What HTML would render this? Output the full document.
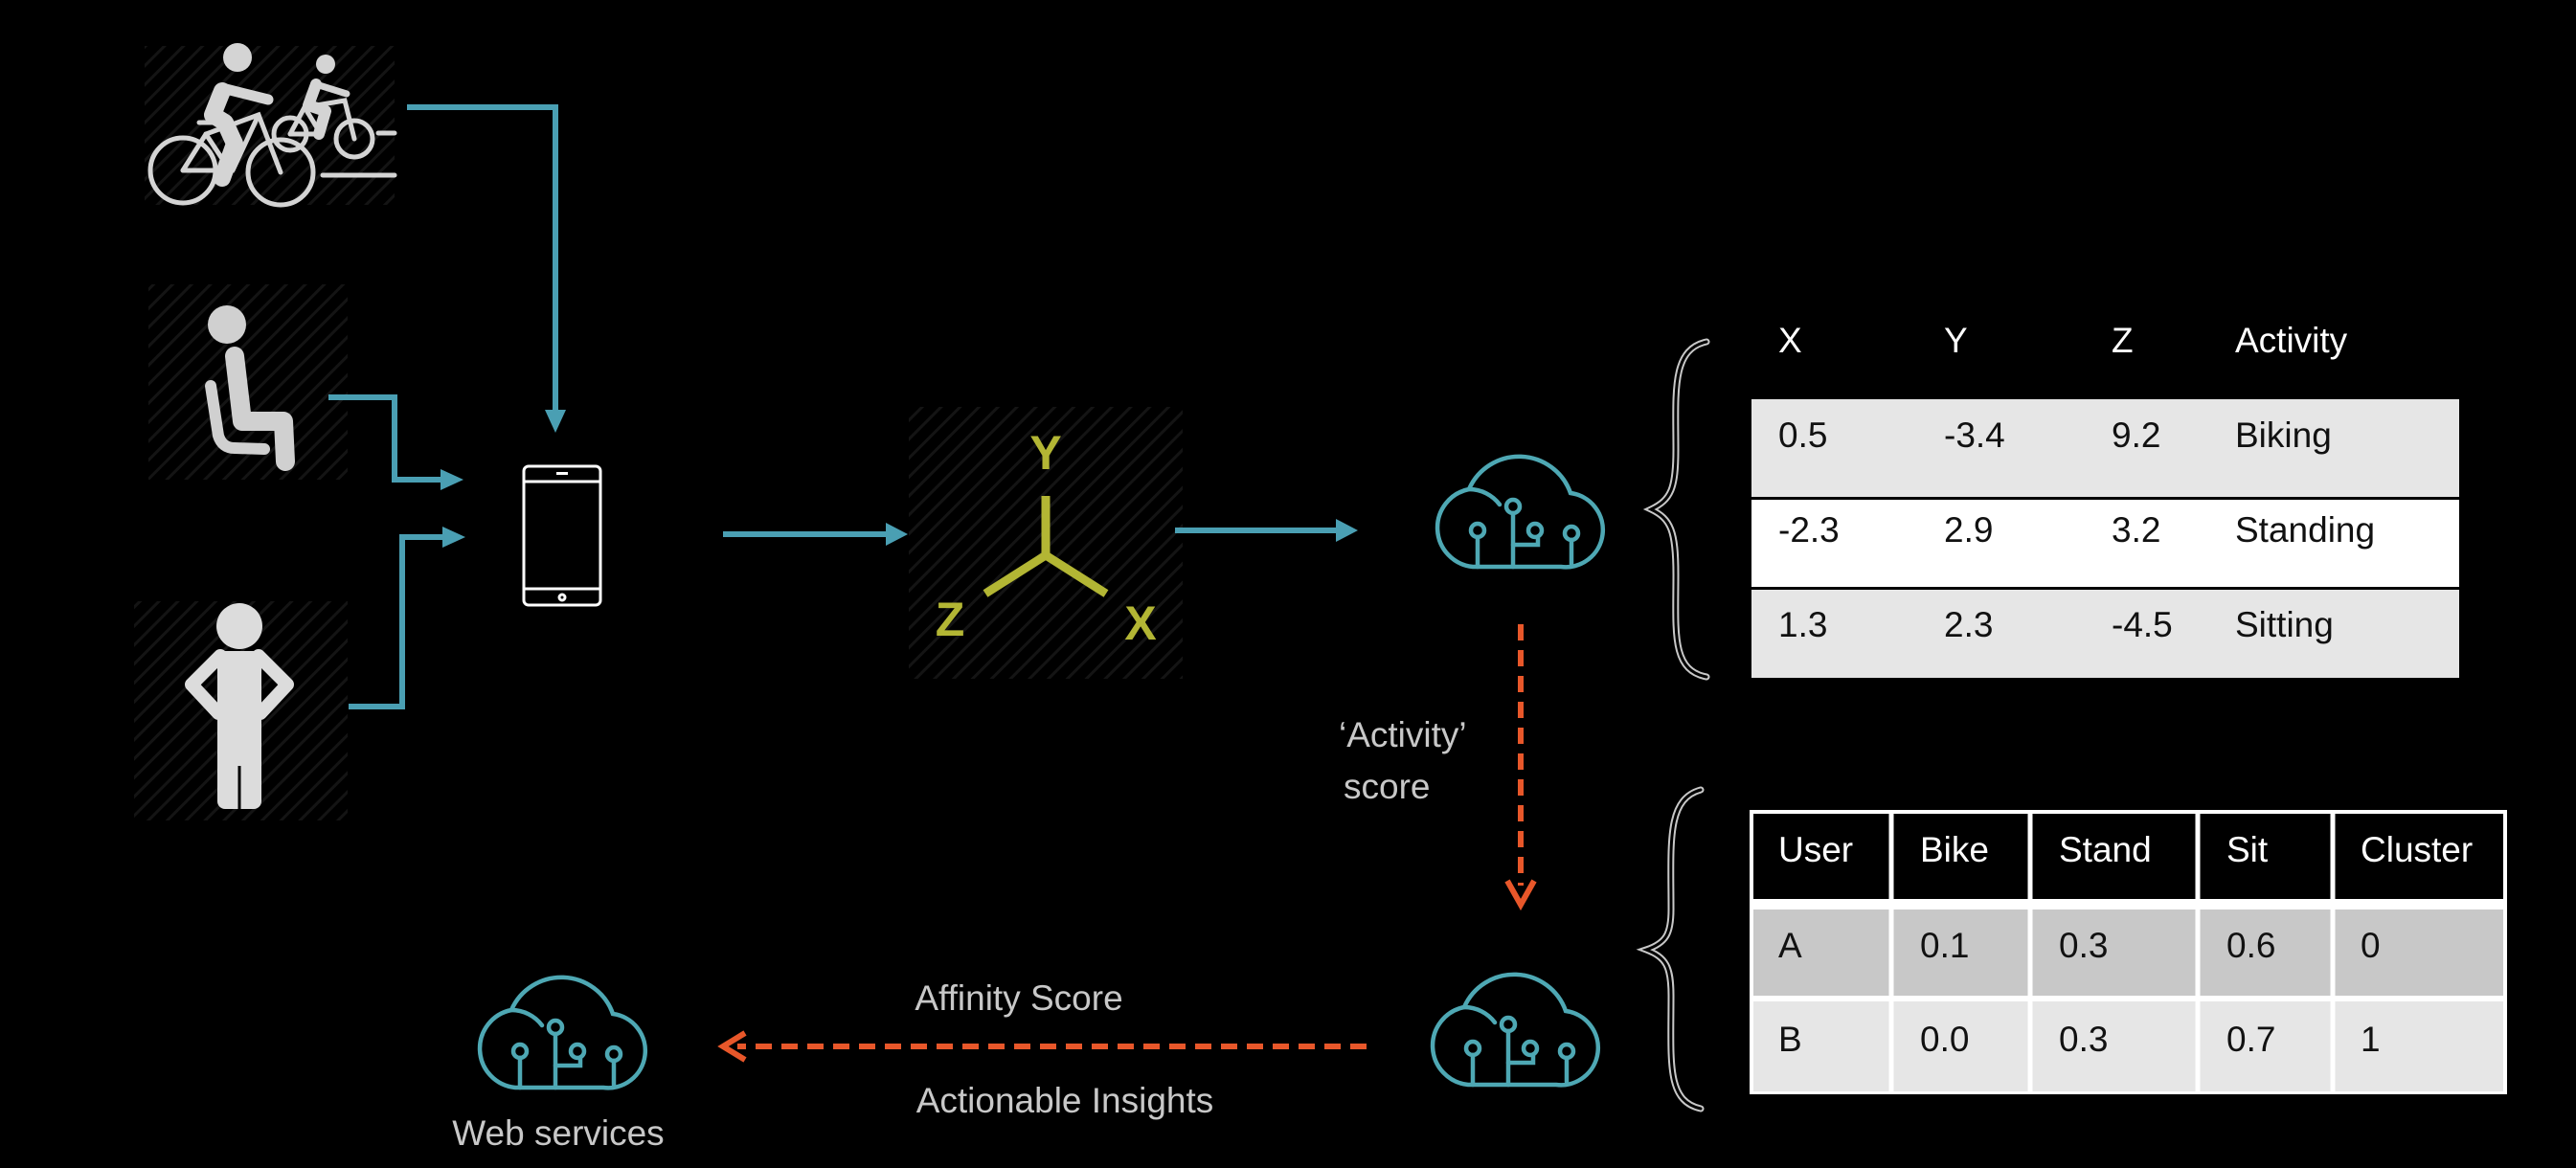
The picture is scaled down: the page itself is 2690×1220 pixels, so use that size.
<!DOCTYPE html>
<html><head><meta charset="utf-8"><style>
html,body{margin:0;padding:0;background:#000;}
body{width:2690px;height:1220px;overflow:hidden;position:relative;font-family:"Liberation Sans",sans-serif;}
svg{position:absolute;left:0;top:0;}
.t{font-family:"Liberation Sans",sans-serif;font-size:37px;fill:#111;}
.l{font-family:"Liberation Sans",sans-serif;font-size:37px;fill:#c8c8c8;}
</style></head><body>
<svg width="2690" height="1220" viewBox="0 0 2690 1220" xmlns="http://www.w3.org/2000/svg">
<defs>
<pattern id="h" width="14" height="14" patternUnits="userSpaceOnUse" patternTransform="rotate(45)">
<rect width="14" height="14" fill="#000"/><rect width="3" height="14" fill="#141414"/></pattern>
<g id="cloud" fill="none" stroke="#4ea8b4" stroke-width="4.5" stroke-linecap="round">
<path d="M48 115 H140 A38 38 0 0 0 150 38 A57 57 0 0 0 44 34 A41 41 0 0 0 48 115 Z"/>
<path d="M44 34 A40 40 0 0 1 76 50"/>
<circle cx="53" cy="77" r="7"/><line x1="53" y1="84" x2="53" y2="115"/>
<circle cx="90" cy="52" r="7"/><line x1="90" y1="59" x2="90" y2="115"/>
<polyline points="90,92 116,92 116,84"/><circle cx="113" cy="77" r="7"/>
<circle cx="151" cy="80" r="7"/><line x1="151" y1="87" x2="151" y2="112"/>
</g>
</defs>

<rect x="151" y="48" width="261" height="166" fill="url(#h)"/>
<rect x="155" y="297" width="208" height="204" fill="url(#h)"/>
<rect x="140" y="628" width="223" height="229" fill="url(#h)"/>
<rect x="949" y="425" width="286" height="284" fill="url(#h)"/>

<g fill="none" stroke="#d4d4d4" stroke-width="5" stroke-linecap="round">
<circle cx="191" cy="178" r="34"/><circle cx="293" cy="180" r="34"/>
<polyline points="191,178 215,140 270,120 293,180"/><polyline points="215,140 240,178 191,178"/>
<line x1="270" y1="120" x2="243" y2="178"/><line x1="208" y1="128" x2="222" y2="128"/>
<circle cx="303" cy="140" r="17"/><circle cx="370" cy="145" r="19"/>
<polyline points="303,140 318,112 360,105 370,145"/><line x1="318" y1="112" x2="335" y2="140"/><line x1="303" y1="140" x2="335" y2="140"/>
<line x1="337" y1="183" x2="412" y2="183"/><line x1="395" y1="139" x2="412" y2="139"/>
</g>
<g fill="#d4d4d4" stroke="#d4d4d4" stroke-linecap="round" stroke-linejoin="round">
<circle cx="248" cy="60" r="15" stroke="none"/>
<polyline points="232,95 222,120 235,128 245,150 232,186" fill="none" stroke-width="18"/>
<line x1="232" y1="92" x2="280" y2="104" stroke-width="11"/>
<circle cx="340" cy="67" r="10" stroke="none"/>
<polyline points="330,88 322,110 340,116 333,140" fill="none" stroke-width="12"/>
<line x1="330" y1="88" x2="362" y2="98" stroke-width="7"/>
</g>

<g fill="none" stroke="#d0d0d0" stroke-linecap="round" stroke-linejoin="round">
<polyline points="245,372 253,440 296,440 298,482" stroke-width="20"/>
<path d="M220 403 L228 455 Q232 468 245 468 L276 469" stroke-width="12"/>
</g>
<circle cx="237" cy="339" r="20" fill="#d0d0d0"/>

<g fill="#dcdcdc">
<circle cx="250" cy="654" r="24"/>
<rect x="227" y="680" width="46" height="165" rx="8"/>
</g>
<g fill="none" stroke="#dcdcdc" stroke-width="14" stroke-linejoin="round" stroke-linecap="round">
<polyline points="230,685 200,715 228,745"/><polyline points="270,685 300,715 272,745"/>
</g>
<line x1="250" y1="800" x2="250" y2="848" stroke="#000" stroke-width="3"/>

<g fill="none" stroke="#4a9fb3" stroke-width="6">
<polyline points="425,112 580,112 580,430"/>
<polyline points="343,415 412,415 412,501 462,501"/>
<polyline points="364,738 420,738 420,561 464,561"/>
<line x1="755" y1="558" x2="928" y2="558"/>
<line x1="1227" y1="554" x2="1398" y2="554"/>
</g>
<g fill="#4a9fb3">
<polygon points="569,428 591,428 580,452"/>
<polygon points="460,490 460,512 484,501"/>
<polygon points="462,550 462,572 486,561"/>
<polygon points="925,546 925,570 948,558"/>
<polygon points="1395,542 1395,566 1418,554"/>
</g>

<g fill="none" stroke="#fff" stroke-width="3">
<rect x="547" y="487" width="80" height="145" rx="5"/>
<line x1="547" y1="503" x2="627" y2="503"/><line x1="547" y1="615" x2="627" y2="615"/>
<circle cx="587" cy="624" r="3"/>
</g>
<rect x="581" y="493" width="12" height="3" fill="#fff"/>

<g stroke="#b3b634" stroke-width="9" fill="none">
<line x1="1092" y1="518" x2="1092" y2="580"/>
<line x1="1092" y1="580" x2="1029" y2="620"/>
<line x1="1092" y1="580" x2="1155" y2="620"/>
</g>
<g fill="#b3b634" font-family="Liberation Sans, sans-serif" font-weight="bold" font-size="50" text-anchor="middle">
<text x="1092" y="490">Y</text><text x="992" y="664">Z</text><text x="1191" y="668">X</text>
</g>

<use href="#cloud" transform="translate(1490,477)"/>
<use href="#cloud" transform="translate(1485,1018)"/>
<use href="#cloud" transform="translate(490,1021)"/>

<g stroke="#e8572a" stroke-width="6" fill="none" stroke-dasharray="17,10">
<line x1="1588" y1="652" x2="1588" y2="925"/>
<line x1="1427" y1="1093" x2="770" y2="1093"/>
</g>
<g fill="none" stroke="#e8572a" stroke-width="6">
<polyline points="1574,920 1588,945 1602,920"/>
<polyline points="778,1079 755,1093 778,1107"/>
</g>

<text class="l" x="1398" y="780">‘Activity’</text>
<text class="l" x="1403" y="834">score</text>
<text class="l" x="1064" y="1055" text-anchor="middle">Affinity Score</text>
<text class="l" x="1112" y="1162" text-anchor="middle">Actionable Insights</text>
<text class="l" x="583" y="1196" text-anchor="middle">Web services</text>

<g fill="none" stroke-linecap="round">
<path d="M1782 357 C1745 365 1750 410 1750 470 C1750 510 1745 522 1724 532 C1745 542 1750 555 1750 600 C1750 660 1745 700 1782 707" stroke="#c8c8c8" stroke-width="7"/>
<path d="M1782 357 C1745 365 1750 410 1750 470 C1750 510 1745 522 1724 532 C1745 542 1750 555 1750 600 C1750 660 1745 700 1782 707" stroke="#000" stroke-width="3"/>
<path d="M1776 825 C1740 835 1745 880 1745 950 C1745 975 1740 985 1719 992 C1740 1000 1745 1010 1745 1040 C1745 1110 1740 1150 1776 1158" stroke="#c8c8c8" stroke-width="7"/>
<path d="M1776 825 C1740 835 1745 880 1745 950 C1745 975 1740 985 1719 992 C1740 1000 1745 1010 1745 1040 C1745 1110 1740 1150 1776 1158" stroke="#000" stroke-width="3"/>
</g>

<g>
<rect x="1829" y="417" width="739" height="102" fill="#e6e6e6"/>
<rect x="1829" y="522" width="739" height="91" fill="#fff"/>
<rect x="1829" y="616" width="739" height="92" fill="#e6e6e6"/>
<text class="l" x="1857" y="368" style="fill:#fff">X</text><text class="l" x="2030" y="368" style="fill:#fff">Y</text><text class="l" x="2205" y="368" style="fill:#fff">Z</text><text class="l" x="2334" y="368" style="fill:#fff">Activity</text>
<text class="t" x="1857" y="467">0.5</text><text class="t" x="2030" y="467">-3.4</text><text class="t" x="2205" y="467">9.2</text><text class="t" x="2334" y="467">Biking</text>
<text class="t" x="1857" y="566">-2.3</text><text class="t" x="2030" y="566">2.9</text><text class="t" x="2205" y="566">3.2</text><text class="t" x="2334" y="566">Standing</text>
<text class="t" x="1857" y="665">1.3</text><text class="t" x="2030" y="665">2.3</text><text class="t" x="2205" y="665">-4.5</text><text class="t" x="2334" y="665">Sitting</text>
</g>

<g>
<rect x="1827" y="846" width="791" height="297" fill="#fff"/>
<rect x="1831" y="850" width="783" height="89" fill="#000"/>
<rect x="1831" y="950" width="783" height="90" fill="#c8c8c8"/>
<rect x="1831" y="1046" width="783" height="94" fill="#e6e6e6"/>
<g stroke="#fff" stroke-width="5">
<line x1="1975" y1="846" x2="1975" y2="1143"/><line x1="2120" y1="846" x2="2120" y2="1143"/>
<line x1="2295" y1="846" x2="2295" y2="1143"/><line x1="2436" y1="846" x2="2436" y2="1143"/>
<line x1="1827" y1="1043" x2="2618" y2="1043"/>
</g>
<text class="l" style="fill:#fff" x="1857" y="900">User</text><text class="l" style="fill:#fff" x="2005" y="900">Bike</text><text class="l" style="fill:#fff" x="2150" y="900">Stand</text><text class="l" style="fill:#fff" x="2325" y="900">Sit</text><text class="l" style="fill:#fff" x="2465" y="900">Cluster</text>
<text class="t" x="1857" y="1000">A</text><text class="t" x="2005" y="1000">0.1</text><text class="t" x="2150" y="1000">0.3</text><text class="t" x="2325" y="1000">0.6</text><text class="t" x="2465" y="1000">0</text>
<text class="t" x="1857" y="1098">B</text><text class="t" x="2005" y="1098">0.0</text><text class="t" x="2150" y="1098">0.3</text><text class="t" x="2325" y="1098">0.7</text><text class="t" x="2465" y="1098">1</text>
</g>
</svg>
</body></html>
